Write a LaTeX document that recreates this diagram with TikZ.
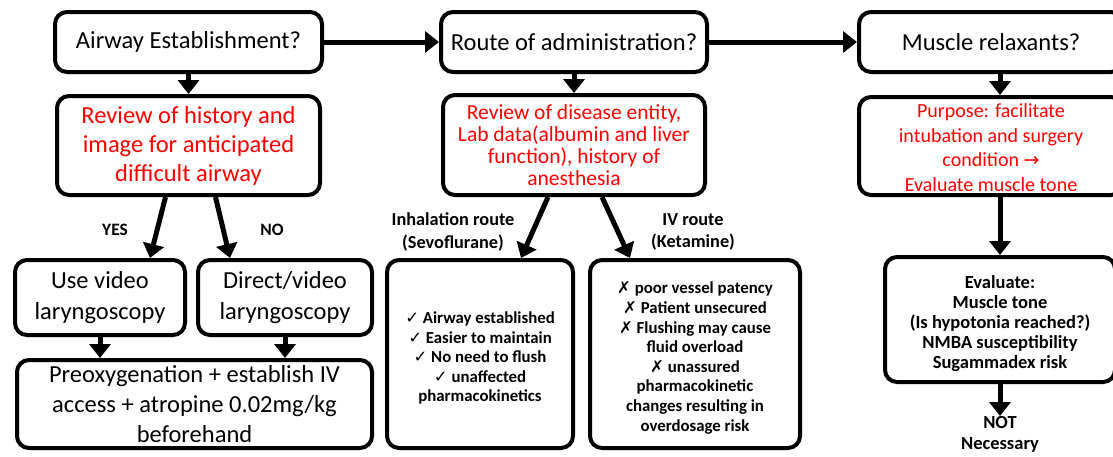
\documentclass[tikz,border=0pt]{standalone}
\usepackage{fontspec}
\setmainfont{Carlito}
\newfontfamily\symf{DejaVu Sans}
\usetikzlibrary{arrows.meta,calc}
\newcommand{\ck}{{\symf\fontsize{16.5}{16.5}\selectfont ✓}}
\newcommand{\xk}{{\symf\fontsize{16.5}{16.5}\selectfont ✗}}
\newcommand{\dn}[1]{\rule{0pt}{#1}}
\begin{document}
\begin{tikzpicture}[x=1pt,y=-1pt,
  box/.style={draw=black,line width=4pt,rounded corners=12pt,align=center,inner sep=0pt},
  big/.style={font=\fontsize{24.5}{29}\selectfont},
  mid/.style={font=\fontsize{21.5}{22}\selectfont},
  midb/.style={font=\fontsize{20}{24.5}\selectfont},
  small/.style={font=\bfseries\fontsize{16.8}{19.6}\selectfont},
  lab/.style={align=center,inner sep=0pt,font=\bfseries\fontsize{18.3}{22.5}\selectfont},
  redt/.style={text=red},
  arr/.style={line width=5pt,-{Triangle[length=14pt,width=21pt]}}
]
\useasboundingbox (0,0) rectangle (1113,456);
\clip (0,0) rectangle (1113,456);
\fill[white] (0,0) rectangle (1113,456);

% top row
\node[box,big,minimum width=267pt,minimum height=60pt] (a1) at (188.5,42) {Airway Establishment?};
\node[box,big,minimum width=266pt,minimum height=60pt] (a2) at (574,42) {Route of administration?};
\node[box,big,minimum width=264pt,minimum height=60pt] (a3) at (991,42) {Muscle relaxants?};

% second row
\node[box,big,redt,minimum width=263pt,minimum height=99pt] (r1) at (188.5,145.5) {Review of history and\\image for anticipated\\difficult airway};
\node[box,mid,redt,minimum width=262pt,minimum height=100pt] (r2) at (574,145) {Review of disease entity,\\Lab data(albumin and liver\\function), history of\\anesthesia};
\node[box,midb,redt,minimum width=264pt,minimum height=98pt] (r3) at (991,146) {\dn{17pt}Purpose: facilitate\\intubation and surgery\\condition {\symf\fontsize{19}{19}\selectfont →}\\Evaluate muscle tone};

% left column lower
\node[box,font=\fontsize{24.5}{31}\selectfont,minimum width=170pt,minimum height=75pt] (b1) at (100,297.5) {Use video\\laryngoscopy};
\node[box,font=\fontsize{24.5}{31}\selectfont,minimum width=174pt,minimum height=75pt] (b2) at (285,297.5) {Direct/video\\laryngoscopy};
\node[box,font=\fontsize{24.5}{30}\selectfont,minimum width=355pt,minimum height=88pt] (b3) at (194.5,404) {Preoxygenation + establish IV\\access + atropine 0.02mg/kg\\beforehand};
\node[lab,font=\bfseries\fontsize{17.4}{20}\selectfont] (yes) at (115,230) {YES};
\node[lab,font=\bfseries\fontsize{17.4}{20}\selectfont] (no) at (272,230) {NO};

% middle column lower
\node[lab] (il) at (453,232) {Inhalation route\\(Sevoflurane)};
\node[lab] (ivl) at (693,232) {IV route\\(Ketamine)};
\node[box,small,minimum width=186pt,minimum height=188pt] (c1) at (480,354) {\dn{20pt}\ck{} Airway established\\\ck{} Easier to maintain\\\ck{} No need to flush\\\ck{} unaffected\\pharmacokinetics};
\node[box,small,minimum width=210pt,minimum height=188pt] (c2) at (695,354) {\dn{20pt}\xk{} poor vessel patency\\\xk{} Patient unsecured\\\xk{} Flushing may cause\\fluid overload\\\xk{} unassured\\pharmacokinetic\\changes resulting in\\overdosage risk};

% right column lower
\node[box,font=\bfseries\fontsize{18.5}{20}\selectfont,minimum width=230pt,minimum height=125pt] (d1) at (1000,319.5) {\dn{22pt}Evaluate:\\Muscle tone\\(Is hypotonia reached?)\\NMBA susceptibility\\Sugammadex risk};
\node[lab,font=\bfseries\fontsize{18.5}{21.5}\selectfont,anchor=north] (nn) at (1000,416) {NOT\\Necessary};

% connectors
\draw[arr] (a1.east) -- (a2.west);
\draw[arr] (a2.east) -- (a3.west);
\draw[arr] (a1.south) -- (r1.north);
\draw[arr] (a2.south) -- (r2.north);
\draw[arr] (a3.south -| d1.north) -- (r3.north -| d1.north);
\draw[arr] ([xshift=-23pt]r1.south) -- ([xshift=50pt]b1.north);
\draw[arr] ([xshift=27pt]r1.south) -- ([xshift=-55pt]b2.north);
\draw[arr] (b1.south) -- (b1.south |- b3.north);
\draw[arr] (b2.south) -- (b2.south |- b3.north);
\draw[arr] ([xshift=-26pt]r2.south) -- ([xshift=41pt]c1.north);
\draw[arr] ([xshift=28pt]r2.south) -- ([xshift=-65pt]c2.north);
\draw[arr] (r3.south -| d1.north) -- (d1.north);
\draw[arr] (d1.south) -- (nn.north);
\end{tikzpicture}
\end{document}
